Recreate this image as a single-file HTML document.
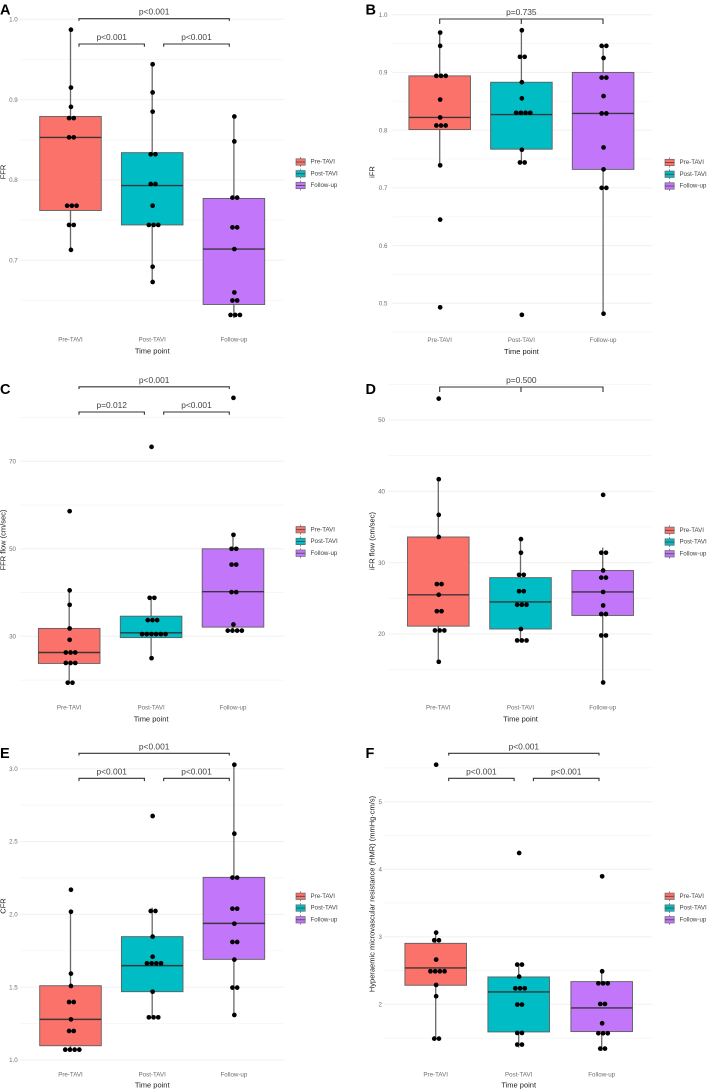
<!DOCTYPE html>
<html lang="en">
<head>
<meta charset="utf-8">
<title>Boxplots of coronary physiology indices by time point</title>
<style>
html,body{margin:0;padding:0;background:#fff;}
svg{display:block;filter:blur(0.25px);}
text{font-family:"Liberation Sans",sans-serif;}
</style>
</head>
<body>
<svg id="figure" xmlns="http://www.w3.org/2000/svg" width="709" height="1089" viewBox="0 0 709 1089"></svg>
<script>
// Shared categories
const categories = ['Pre-TAVI', 'Post-TAVI', 'Follow-up'];
const categoryColors = ['#FB726B', '#00BCC4', '#C277FA'];

// Panel A — FFR
const ticksA = [0.7, 0.8, 0.9, 1.0];
const tickLabelsA = ['0.7', '0.8', '0.9', '1.0'];
const minorA = [0.65, 0.75, 0.85, 0.95];
const boxPreA = [0.713, 0.762, 0.853, 0.879, 0.987];
const boxPostA = [0.673, 0.744, 0.793, 0.834, 0.944];
const boxFollowA = [0.628, 0.645, 0.714, 0.777, 0.879];
const dotsPreA = [0.987, 0.915, 0.891, 0.877, 0.877, 0.853, 0.853, 0.768, 0.768, 0.768, 0.744, 0.744, 0.713];
const dotsPostA = [0.944, 0.909, 0.885, 0.832, 0.832, 0.795, 0.795, 0.768, 0.744, 0.744, 0.744, 0.692, 0.673];
const dotsFollowA = [0.879, 0.848, 0.778, 0.778, 0.741, 0.741, 0.714, 0.660, 0.650, 0.650, 0.632, 0.632, 0.632];
const pLabelsA = ['p<0.001', 'p<0.001', 'p<0.001'];

// Panel B — iFR
const ticksB = [0.5, 0.6, 0.7, 0.8, 0.9, 1.0];
const tickLabelsB = ['0.5', '0.6', '0.7', '0.8', '0.9', '1.0'];
const minorB = [0.45, 0.55, 0.65, 0.75, 0.85, 0.95];
const boxPreB = [0.739, 0.801, 0.822, 0.894, 0.969];
const boxPostB = [0.744, 0.767, 0.827, 0.883, 0.973];
const boxFollowB = [0.482, 0.732, 0.829, 0.900, 0.946];
const dotsPreB = [0.969, 0.946, 0.894, 0.894, 0.894, 0.853, 0.822, 0.808, 0.808, 0.808, 0.739, 0.645, 0.493];
const dotsPostB = [0.973, 0.927, 0.927, 0.883, 0.855, 0.830, 0.830, 0.830, 0.830, 0.766, 0.744, 0.744, 0.480];
const dotsFollowB = [0.946, 0.946, 0.925, 0.891, 0.891, 0.859, 0.829, 0.829, 0.770, 0.732, 0.700, 0.700, 0.482];
const pLabelsB = ['p=0.735'];

// Panel C — FFR flow
const ticksC = [30, 50, 70];
const tickLabelsC = ['30', '50', '70'];
const minorC = [20, 40, 60, 80];
const boxPreC = [19.7, 23.8, 26.3, 31.8, 40.5];
const boxPostC = [25.0, 29.7, 30.8, 34.6, 38.8];
const boxFollowC = [31.3, 32.1, 40.2, 50.0, 53.2];
const dotsPreC = [58.6, 40.5, 37.2, 31.8, 29.2, 26.3, 26.3, 26.3, 23.9, 23.9, 23.9, 19.4, 19.4];
const dotsPostC = [73.3, 38.8, 38.8, 33.7, 33.7, 33.7, 30.5, 30.5, 30.5, 30.5, 30.5, 30.5, 25.0];
const dotsFollowC = [84.5, 53.2, 50.0, 50.0, 46.4, 46.4, 40.1, 40.1, 32.7, 31.3, 31.3, 31.3, 31.3];
const pLabelsC = ['p<0.001', 'p=0.012', 'p<0.001'];

// Panel D — iFR flow
const ticksD = [20, 30, 40, 50];
const tickLabelsD = ['20', '30', '40', '50'];
const minorD = [15, 25, 35, 45, 55];
const boxPreD = [16.1, 21.1, 25.5, 33.6, 41.7];
const boxPostD = [18.8, 20.7, 24.5, 27.9, 33.3];
const boxFollowD = [13.2, 22.6, 25.9, 28.9, 32.1];
const dotsPreD = [53.0, 41.7, 36.7, 33.6, 27.0, 27.0, 25.5, 23.2, 23.2, 20.5, 20.5, 20.5, 16.1];
const dotsPostD = [33.3, 31.4, 28.3, 28.3, 26.0, 26.0, 24.1, 24.1, 24.1, 20.7, 19.1, 19.1, 19.1];
const dotsFollowD = [39.5, 31.4, 31.4, 28.9, 27.9, 27.9, 25.9, 24.0, 22.8, 22.8, 19.8, 19.8, 13.2];
const pLabelsD = ['p=0.500'];

// Panel E — CFR
const ticksE = [1.0, 1.5, 2.0, 2.5, 3.0];
const tickLabelsE = ['1.0', '1.5', '2.0', '2.5', '3.0'];
const minorE = [1.25, 1.75, 2.25, 2.75];
const boxPreE = [1.071, 1.098, 1.279, 1.510, 2.018];
const boxPostE = [1.293, 1.469, 1.648, 1.847, 2.046];
const boxFollowE = [1.309, 1.691, 1.938, 2.254, 3.027];
const dotsPreE = [2.169, 2.018, 1.593, 1.508, 1.398, 1.398, 1.279, 1.199, 1.199, 1.071, 1.071, 1.071, 1.071];
const dotsPostE = [2.675, 2.023, 2.023, 1.847, 1.709, 1.664, 1.664, 1.664, 1.664, 1.469, 1.293, 1.293, 1.293];
const dotsFollowE = [3.027, 2.554, 2.252, 2.252, 2.039, 2.039, 1.936, 1.810, 1.810, 1.689, 1.497, 1.497, 1.309];
const pLabelsE = ['p<0.001', 'p<0.001', 'p<0.001'];

// Panel F — HMR
const ticksF = [2, 3, 4, 5];
const tickLabelsF = ['2', '3', '4', '5'];
const minorF = [1.5, 2.5, 3.5, 4.5, 5.5];
const boxPreF = [1.492, 2.282, 2.538, 2.903, 3.061];
const boxPostF = [1.36, 1.591, 2.183, 2.405, 2.588];
const boxFollowF = [1.31, 1.596, 1.946, 2.336, 2.489];
const dotsPreF = [5.548, 3.061, 2.948, 2.948, 2.662, 2.489, 2.489, 2.489, 2.489, 2.287, 2.119, 1.492, 1.492];
const dotsPostF = [4.240, 2.588, 2.588, 2.410, 2.237, 2.237, 2.237, 1.996, 1.996, 1.576, 1.576, 1.404, 1.404];
const dotsFollowF = [3.895, 2.489, 2.311, 2.311, 2.311, 2.005, 2.005, 1.719, 1.571, 1.571, 1.571, 1.344, 1.344];
const pLabelsF = ['p<0.001', 'p<0.001', 'p<0.001'];

const NS = 'http://www.w3.org/2000/svg';
const figure = document.getElementById('figure');

function make(parent, tag, attrs, content) {
  const el = document.createElementNS(NS, tag);
  for (const key in attrs) el.setAttribute(key, attrs[key]);
  if (content !== undefined) el.textContent = content;
  parent.appendChild(el);
  return el;
}

function linearScale(value1, pixel1, value2, pixel2) {
  const slope = (pixel2 - pixel1) / (value2 - value1);
  return function (v) { return pixel1 + (v - value1) * slope; };
}

function drawPanel(p) {
  const g = make(figure, 'g', {});
  
  
  const y = linearScale(p.ticks[0], p.firstTickPx, p.ticks[p.ticks.length - 1], p.lastTickPx);
  const x = function (i) { return p.x0 + i * p.xStep; };

  p.minor.forEach(function (v) {
    const line = make(g, 'line', { x1: p.gridL, x2: p.gridR, y1: y(v), y2: y(v), stroke: '#f6f6f6', 'stroke-width': 0.8 });
    
    
  });
  p.ticks.forEach(function (v, i) {
    const line = make(g, 'line', { x1: p.gridL, x2: p.gridR, y1: y(v), y2: y(v), stroke: '#f0f0f0', 'stroke-width': 1 });
    
    
    const label = make(g, 'text', { x: p.tickRight, y: y(v) + 2.2, 'text-anchor': 'end', 'font-size': 6.2, fill: '#6e6e6e' }, p.tickLabels[i]);
    
    
  });

  categories.forEach(function (name, i) {
    const cx = x(i);
    const s = p.boxes[i];
    const halfW = 30.8;
    const whisker = make(g, 'path', {
      d: 'M' + cx + ' ' + y(s[0]) + 'V' + y(s[1]) + 'M' + cx + ' ' + y(s[3]) + 'V' + y(s[4]),
      stroke: '#6a6a6a', 'stroke-width': 1.3, fill: 'none'
    });
    
    
    const box = make(g, 'rect', {
      x: cx - halfW, y: y(s[3]), width: halfW * 2, height: y(s[1]) - y(s[3]),
      fill: categoryColors[i], stroke: '#5e5e5e', 'stroke-width': 0.9
    });
    
    
    const median = make(g, 'line', { x1: cx - halfW, x2: cx + halfW, y1: y(s[2]), y2: y(s[2]), stroke: '#2c2c2c', 'stroke-width': 1.4, 'stroke-opacity': 0.9 });
    
    

    const counts = new Map();
    p.dots[i].forEach(function (v) { counts.set(v, (counts.get(v) || 0) + 1); });
    counts.forEach(function (n, v) {
      const spacing = 4.7;
      const start = cx + n * 0.45 - (n - 1) * spacing / 2;
      for (let k = 0; k < n; k++) {
        const dot = make(g, 'circle', { cx: start + k * spacing, cy: y(v), r: 2.35, fill: '#000' });
        
        
      }
    });

    const tick = make(g, 'text', { x: cx, y: p.xTickY, 'text-anchor': 'middle', 'font-size': 6.2, fill: '#6e6e6e' }, name);
    
    

    const ky = p.legendY + i * 11.75;
    const keyLine = make(g, 'line', { x1: p.legendX + 4.6, x2: p.legendX + 4.6, y1: ky - 5, y2: ky + 5, stroke: '#666', 'stroke-width': 0.7 });
    
    
    const key = make(g, 'rect', { x: p.legendX, y: ky - 3.2, width: 9.2, height: 6.4, fill: categoryColors[i], stroke: '#666', 'stroke-width': 0.7 });
    
    
    const keyMid = make(g, 'line', { x1: p.legendX, x2: p.legendX + 9.2, y1: ky, y2: ky, stroke: '#444', 'stroke-width': 0.8 });
    
    
    const keyText = make(g, 'text', { x: p.legendX + 14.5, y: ky + 1.6, 'font-size': 6.2, fill: '#444' }, name);
    
    
  });

  p.brackets.forEach(function (b, i) {
    let d = 'M' + b.x1 + ' ' + (b.y + b.drop) + 'V' + b.y + 'H' + b.x2 + 'V' + (b.y + b.drop);
    if (b.mid !== undefined) d += 'M' + b.mid + ' ' + b.y + 'V' + (b.y + b.drop);
    const path = make(g, 'path', { d: d, stroke: '#333', 'stroke-width': 1.1, fill: 'none' });
    
    
    const label = make(g, 'text', { x: (b.x1 + b.x2) / 2, y: b.y - 4, 'text-anchor': 'middle', 'font-size': 8.4, fill: '#444' }, p.pLabels[i]);
    
    
  });

  const xTitle = make(g, 'text', { x: x(1), y: p.xTitleY, 'text-anchor': 'middle', 'font-size': 7.5, fill: '#222' }, 'Time point');
  
  

  const yTitle = make(g, 'text', {
    x: 0, y: 0, 'text-anchor': 'middle', 'font-size': 7.5, fill: '#222',
    transform: 'translate(' + p.yTitleX + ' ' + p.yTitleY + ') rotate(-90)'
  }, p.yTitle);
  
  

  const letter = make(g, 'text', { x: p.letterX, y: p.letterY, 'font-size': 14.5, 'font-weight': 'bold', fill: '#000' }, p.letter);
  
  
}

function threeBrackets(left, top, second) {
  return [
    { x1: left, x2: left + 150.3, y: top, drop: 2.2 },
    { x1: left, x2: left + 65.4, y: second, drop: 2.8 },
    { x1: left + 84.7, x2: left + 150.3, y: second, drop: 2.8 }
  ];
}

drawPanel({
  letter: 'A', letterX: 0, letterY: 14.5, yTitle: 'FFR', yTitleX: 5.5, yTitleY: 172,
  ticks: ticksA, tickLabels: tickLabelsA, minor: minorA, firstTickPx: 260.3, lastTickPx: 19.3,
  boxes: [boxPreA, boxPostA, boxFollowA], dots: [dotsPreA, dotsPostA, dotsFollowA],
  x0: 70.5, xStep: 81.7, gridL: 20, gridR: 284, tickRight: 17.7,
  xTickY: 341.5, xTitleY: 353.5, legendX: 296, legendY: 162,
  pLabels: pLabelsA, brackets: threeBrackets(79, 18.7, 44)
});
drawPanel({
  letter: 'B', letterX: 365.5, letterY: 14.5, yTitle: 'iFR', yTitleX: 374.5, yTitleY: 172,
  ticks: ticksB, tickLabels: tickLabelsB, minor: minorB, firstTickPx: 303.3, lastTickPx: 14.7,
  boxes: [boxPreB, boxPostB, boxFollowB], dots: [dotsPreB, dotsPostB, dotsFollowB],
  x0: 439.7, xStep: 81.7, gridL: 392.3, gridR: 652.3, tickRight: 387.5,
  xTickY: 342, xTitleY: 354, legendX: 665, legendY: 162.5,
  pLabels: pLabelsB, brackets: [{ x1: 439.7, x2: 603, y: 19, drop: 5, mid: 521.3 }]
});
drawPanel({
  letter: 'C', letterX: 0, letterY: 394, yTitle: 'FFR flow (cm/sec)', yTitleX: 5.5, yTitleY: 540,
  ticks: ticksC, tickLabels: tickLabelsC, minor: minorC, firstTickPx: 636.3, lastTickPx: 461.3,
  boxes: [boxPreC, boxPostC, boxFollowC], dots: [dotsPreC, dotsPostC, dotsFollowC],
  x0: 69.2, xStep: 81.9, gridL: 20, gridR: 284, tickRight: 16,
  xTickY: 709.5, xTitleY: 721.5, legendX: 296, legendY: 529.7,
  pLabels: pLabelsC, brackets: threeBrackets(79, 386.8, 412)
});
drawPanel({
  letter: 'D', letterX: 365.5, letterY: 394, yTitle: 'iFR flow (cm/sec)', yTitleX: 374.5, yTitleY: 541,
  ticks: ticksD, tickLabels: tickLabelsD, minor: minorD, firstTickPx: 634, lastTickPx: 420,
  boxes: [boxPreD, boxPostD, boxFollowD], dots: [dotsPreD, dotsPostD, dotsFollowD],
  x0: 438.3, xStep: 82.2, gridL: 388, gridR: 652.3, tickRight: 385,
  xTickY: 709.5, xTitleY: 721.5, legendX: 665, legendY: 530.3,
  pLabels: pLabelsD, brackets: [{ x1: 439.7, x2: 603, y: 387, drop: 5, mid: 521 }]
});
drawPanel({
  letter: 'E', letterX: 0, letterY: 758, yTitle: 'CFR', yTitleX: 5.5, yTitleY: 906,
  ticks: ticksE, tickLabels: tickLabelsE, minor: minorE, firstTickPx: 1060, lastTickPx: 768.7,
  boxes: [boxPreE, boxPostE, boxFollowE], dots: [dotsPreE, dotsPostE, dotsFollowE],
  x0: 70.5, xStep: 81.7, gridL: 20, gridR: 284, tickRight: 17.7,
  xTickY: 1076.5, xTitleY: 1087.5, legendX: 296, legendY: 896.3,
  pLabels: pLabelsE, brackets: threeBrackets(79, 753.3, 778.3)
});
drawPanel({
  letter: 'F', letterX: 365.5, letterY: 758, yTitle: 'Hyperaemic microvascular resistance (HMR) (mmHg·cm/s)', yTitleX: 374.5, yTitleY: 894,
  ticks: ticksF, tickLabels: tickLabelsF, minor: minorF, firstTickPx: 1004.3, lastTickPx: 801.7,
  boxes: [boxPreF, boxPostF, boxFollowF], dots: [dotsPreF, dotsPostF, dotsFollowF],
  x0: 435.7, xStep: 83, gridL: 384, gridR: 652.3, tickRight: 382,
  xTickY: 1076.5, xTitleY: 1087.5, legendX: 665, legendY: 896.3,
  pLabels: pLabelsF, brackets: threeBrackets(448.7, 753.3, 778.3)
});
</script>
</body>
</html>
